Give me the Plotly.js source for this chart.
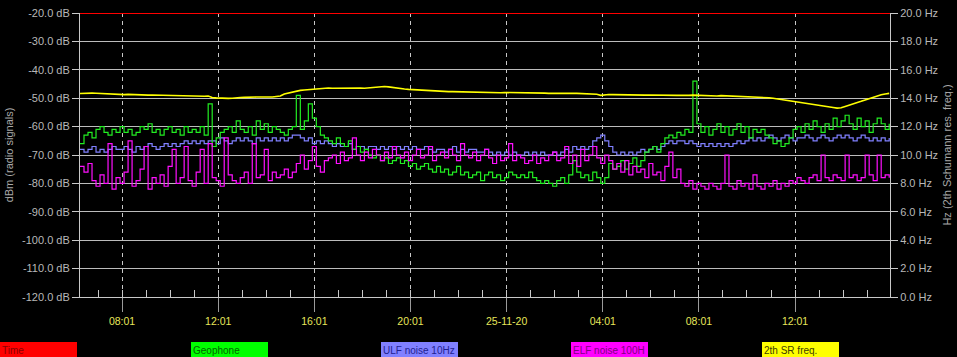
<!DOCTYPE html>
<html>
<head>
<meta charset="utf-8">
<script src="https://cdn.plot.ly/plotly-3.0.1.min.js"></script>
<style>
html,body{margin:0;padding:0;background:#000;}
#chart{width:957px;height:357px;}
</style>
</head>
<body>
<div id="chart"></div>
<script>
// ---- data ----
const seriesStartUTC = [2020, 10, 24, 6, 16]; // 24-11-2020 06:16
const sampleMinutes = 10;

const geophone = [
-66,-63,-62,-64,-61,-60,-62,-63,-61,-62,
-60,-62,-61,-63,-62,-60,-61,-59,-62,-61,
-63,-61,-60,-62,-61,-63,-60,-62,-61,-62,
-60,-63,-52,-67,-64,-62,-61,-60,-62,-58,
-61,-62,-60,-63,-58,-61,-59,-62,-60,-61,
-62,-63,-61,-60,-49,-61,-58,-52,-57,-60,
-63,-64,-65,-66,-64,-66,-67,-65,-68,-67,
-69,-68,-70,-71,-70,-72,-71,-73,-72,-71,
-73,-72,-74,-73,-75,-74,-73,-75,-76,-74,
-76,-75,-77,-76,-74,-77,-76,-78,-77,-76,
-79,-77,-76,-78,-77,-79,-78,-76,-77,-78,
-77,-78,-76,-78,-79,-80,-79,-80,-81,-79,
-78,-80,-77,-72,-76,-78,-77,-79,-76,-78,
-80,-78,-73,-75,-74,-72,-75,-73,-71,-74,
-72,-69,-68,-67,-69,-66,-64,-63,-64,-62,
-63,-61,-62,-44,-59,-62,-60,-63,-61,-59,
-62,-60,-63,-61,-59,-62,-60,-64,-61,-62,
-61,-63,-64,-66,-65,-67,-66,-64,-61,-60,
-62,-59,-61,-58,-60,-62,-59,-61,-57,-60,
-58,-56,-59,-61,-57,-60,-58,-62,-59,-57,
-59,-61,-59
];

const ulfNoise = [
-68,-69,-68,-67,-69,-68,-69,-68,-67,-68,
-68,-67,-68,-69,-67,-68,-67,-66,-67,-68,
-67,-66,-67,-66,-67,-66,-65,-66,-65,-66,
-65,-66,-65,-65,-66,-64,-65,-66,-65,-64,
-65,-64,-65,-66,-64,-65,-64,-65,-64,-65,
-64,-65,-64,-63,-63,-64,-65,-64,-66,-65,
-66,-65,-66,-67,-66,-67,-67,-66,-68,-67,
-67,-68,-67,-67,-68,-67,-68,-67,-68,-67,
-68,-67,-68,-67,-68,-68,-67,-68,-69,-68,
-68,-69,-68,-67,-69,-68,-69,-68,-68,-69,
-69,-68,-69,-70,-69,-70,-69,-70,-69,-70,
-70,-69,-70,-69,-70,-69,-70,-70,-69,-70,
-69,-68,-69,-67,-68,-67,-68,-67,-65,-64,
-63,-65,-67,-69,-70,-69,-70,-69,-70,-69,
-68,-69,-68,-67,-68,-67,-66,-65,-66,-65,
-65,-66,-65,-66,-67,-66,-67,-66,-67,-66,
-67,-66,-67,-66,-65,-66,-65,-64,-65,-64,
-65,-64,-63,-64,-65,-64,-63,-64,-65,-64,
-64,-63,-64,-65,-64,-63,-64,-65,-64,-63,
-64,-63,-64,-65,-64,-63,-64,-65,-64,-65,
-64,-65,-64
];

const elfNoise = [
-74,-76,-73,-79,-81,-77,-80,-66,-82,-78,
-80,-76,-65,-81,-79,-75,-67,-82,-78,-80,
-77,-81,-74,-68,-80,-78,-67,-79,-81,-76,
-68,-80,-66,-78,-79,-81,-64,-77,-79,-80,
-78,-76,-80,-66,-78,-77,-68,-79,-76,-78,
-77,-75,-78,-76,-73,-70,-75,-72,-67,-74,
-76,-72,-71,-70,-73,-69,-72,-71,-64,-70,
-72,-69,-71,-68,-70,-72,-69,-71,-67,-70,
-71,-69,-72,-70,-68,-71,-70,-67,-72,-70,
-69,-71,-68,-70,-72,-66,-70,-71,-69,-72,
-70,-68,-71,-73,-70,-72,-71,-66,-72,-70,
-71,-73,-72,-70,-73,-71,-72,-70,-69,-72,
-71,-67,-73,-70,-74,-68,-72,-70,-67,-71,
-73,-70,-72,-75,-73,-76,-72,-77,-74,-76,
-75,-78,-73,-77,-76,-79,-74,-69,-78,-75,
-80,-81,-79,-82,-80,-81,-82,-80,-81,-82,
-80,-70,-81,-82,-79,-81,-80,-82,-77,-81,
-82,-80,-81,-79,-82,-80,-81,-79,-80,-78,
-79,-80,-78,-77,-79,-70,-78,-79,-77,-78,
-79,-70,-78,-77,-79,-78,-70,-77,-79,-70,
-78,-77,-78
];

const srFreq2 = [
14.33,14.35,14.33,14.36,14.35,14.33,14.34,14.30,14.32,14.30,
14.28,14.25,14.27,14.25,14.24,14.26,14.24,14.22,14.23,14.22,
14.22,14.20,14.22,14.20,14.21,14.19,14.18,14.16,14.15,14.15,
14.15,14.14,14.15,14.05,14.02,14.00,14.00,13.99,14.00,14.00,
14.05,14.06,14.08,14.07,14.08,14.08,14.10,14.08,14.08,14.10,
14.15,14.30,14.37,14.40,14.50,14.55,14.58,14.60,14.62,14.66,
14.70,14.70,14.72,14.70,14.71,14.70,14.72,14.72,14.70,14.72,
14.72,14.70,14.73,14.72,14.75,14.78,14.82,14.80,14.75,14.70,
14.68,14.65,14.62,14.60,14.58,14.55,14.55,14.52,14.50,14.50,
14.48,14.48,14.46,14.46,14.45,14.45,14.42,14.42,14.40,14.40,
14.40,14.38,14.38,14.38,14.36,14.38,14.40,14.40,14.38,14.38,
14.40,14.38,14.36,14.38,14.36,14.35,14.36,14.34,14.35,14.36,
14.35,14.36,14.34,14.35,14.34,14.33,14.32,14.30,14.30,14.28,
14.20,14.25,14.26,14.25,14.24,14.25,14.24,14.23,14.24,14.24,
14.23,14.22,14.23,14.22,14.21,14.22,14.20,14.20,14.20,14.20,
14.20,14.18,14.20,14.22,14.20,14.19,14.18,14.17,14.16,14.15,
14.18,14.17,14.16,14.16,14.15,14.14,14.14,14.13,14.12,14.10,
14.08,14.06,14.03,14.00,13.96,13.92,13.88,13.84,13.80,13.76,
13.72,13.68,13.64,13.60,13.56,13.52,13.46,13.40,13.35,13.30,
13.33,13.42,13.50,13.60,13.68,13.78,13.88,13.98,14.08,14.15,
14.24,14.30,14.34
];

const timeLineLevel = [-20, -20];

const xTickTimes = ['2020-11-24 08:01','2020-11-24 12:01','2020-11-24 16:01','2020-11-24 20:01',
                    '2020-11-25 00:01','2020-11-25 04:01','2020-11-25 08:01','2020-11-25 12:01'];
const xTickLabels = ['08:01','12:01','16:01','20:01','25-11-20','04:01','08:01','12:01'];
const xRange = ['2020-11-24 06:16', '2020-11-25 15:58'];

const yTickVals = [-20,-30,-40,-50,-60,-70,-80,-90,-100,-110,-120];
const yTickLabels = ['-20.0 dB','-30.0 dB','-40.0 dB','-50.0 dB','-60.0 dB','-70.0 dB','-80.0 dB','-90.0 dB','-100.0 dB','-110.0 dB','-120.0 dB'];
const y2TickVals = [0,2,4,6,8,10,12,14,16,18,20];
const y2TickLabels = ['0.0 Hz','2.0 Hz','4.0 Hz','6.0 Hz','8.0 Hz','10.0 Hz','12.0 Hz','14.0 Hz','16.0 Hz','18.0 Hz','20.0 Hz'];

const legendNames = ['Time','Geophone','ULF noise 10Hz','ELF noise 100H','2th SR freq.'];

// ---- build ----
const base = Date.UTC(...seriesStartUTC);
const times = geophone.map((_, i) => new Date(base + i * sampleMinutes * 60000).toISOString().replace('T',' ').slice(0,19));

const FONT = 'Liberation Sans, Arial, sans-serif';
const colors = {
  time: '#ff0000', geo: '#22ee22', ulf: '#8080ff', elf: '#ff10ff', sr: '#ffff00'
};

const traces = [
  {x: times, y: ulfNoise, type: 'scatter', mode: 'lines', line: {color: colors.ulf, width: 1.2, shape: 'hv'}, name: legendNames[2]},
  {x: times, y: geophone, type: 'scatter', mode: 'lines', line: {color: colors.geo, width: 1.2, shape: 'hv'}, name: legendNames[1]},
  {x: times, y: elfNoise, type: 'scatter', mode: 'lines', line: {color: colors.elf, width: 1.2, shape: 'hv'}, name: legendNames[3]},
  {x: times, y: srFreq2, yaxis: 'y2', type: 'scatter', mode: 'lines', line: {color: colors.sr, width: 1.6}, name: legendNames[4]},
  {x: xRange, y: timeLineLevel, type: 'scatter', mode: 'lines', line: {color: colors.time, width: 2}, name: legendNames[0], cliponaxis: false}
];

// legend boxes in pixel coordinates -> paper coordinates
const L = 80, R = 67, T = 13, B = 60, W = 957, H = 357;
const pw = W - L - R, ph = H - T - B;
const px = X => (X - L) / pw;
const py = Y => (H - B - Y) / ph;
const boxLefts = [0, 191, 381, 571, 762];
const boxFill = ['#ff0000', '#00ff00', '#8080ff', '#ff00ff', '#ffff00'];
const boxText = ['#8a0000', '#006400', '#202090', '#800080', '#404000'];
const shapes = [], annotations = [];
legendNames.forEach((n, k) => {
  shapes.push({type: 'rect', xref: 'paper', yref: 'paper', x0: px(boxLefts[k]), x1: px(boxLefts[k] + 77),
    y0: py(358), y1: py(342), fillcolor: boxFill[k], line: {width: 0}, layer: 'above'});
  annotations.push({xref: 'paper', yref: 'paper', x: px(boxLefts[k]), y: py(350), xanchor: 'left', yanchor: 'middle',
    text: n, showarrow: false, font: {family: FONT, size: 10, color: boxText[k]}});
});

const layout = {
  width: W, height: H,
  margin: {l: L, r: R, t: T, b: B},
  paper_bgcolor: '#000', plot_bgcolor: '#000',
  showlegend: false,
  font: {family: FONT, size: 11, color: '#b8b8b8'},
  xaxis: {
    type: 'date', range: xRange,
    tickmode: 'array', tickvals: xTickTimes, ticktext: xTickLabels,
    tickfont: {family: FONT, size: 10.5, color: '#e6e65a'},
    ticks: 'outside', ticklen: 14, tickcolor: '#9a9a9a', tickwidth: 1,
    showgrid: true, gridcolor: '#c8c8c8', griddash: '4px,4px', gridwidth: 1,
    showline: true, linecolor: '#c8c8c8', linewidth: 1,
    zeroline: false,
    minor: {tickmode: 'linear', tick0: '2020-11-24 07:01', dtick: 3600000, ticks: 'inside', ticklen: 7, tickcolor: '#c8c8c8', tickwidth: 1, showgrid: false}
  },
  yaxis: {
    range: [-120, -20], tickmode: 'array', tickvals: yTickVals, ticktext: yTickLabels,
    tickfont: {family: FONT, size: 11, color: '#b8b8b8'},
    ticks: 'outside', ticklen: 7, tickcolor: '#c8c8c8',
    showgrid: true, gridcolor: '#bcbcbc', gridwidth: 1,
    showline: true, linecolor: '#c8c8c8', zeroline: false,
    title: {text: 'dBm (radio signals)', font: {family: FONT, size: 11, color: '#a8a8a8'}, standoff: 6}
  },
  yaxis2: {
    overlaying: 'y', side: 'right', range: [0, 20],
    tickmode: 'array', tickvals: y2TickVals, ticktext: y2TickLabels,
    tickfont: {family: FONT, size: 11, color: '#b8b8b8'},
    ticks: 'outside', ticklen: 7, tickcolor: '#c8c8c8',
    showgrid: false, showline: true, linecolor: '#c8c8c8', zeroline: false,
    title: {text: 'Hz (2th Schumann res. freq.)', font: {family: FONT, size: 11, color: '#a8a8a8'}, standoff: 6}
  },
  shapes: shapes,
  annotations: annotations
};

Plotly.newPlot('chart', traces, layout, {displayModeBar: false, staticPlot: true});
</script>
</body>
</html>
